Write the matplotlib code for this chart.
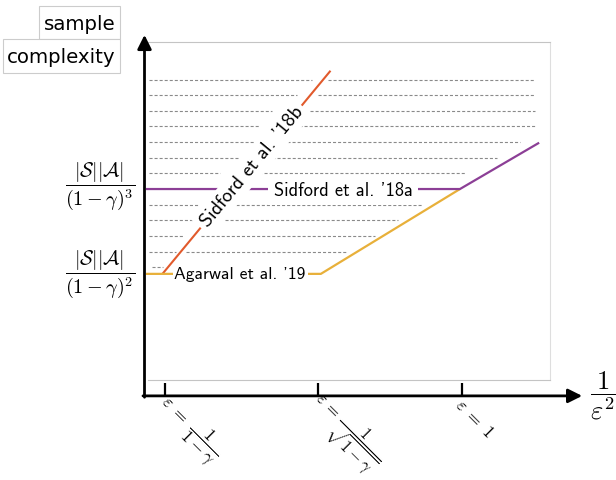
import numpy as np
import matplotlib
matplotlib.use('Agg')
import matplotlib.pyplot as plt
from matplotlib.patches import Rectangle

plt.rcParams['mathtext.fontset'] = 'cm'

# ---------------- data ----------------
xtick_pos = [0.42, 4.22, 7.81]
xtick_labels = [r'$\varepsilon\;=\;\dfrac{1}{1-\gamma}$',
                r'$\varepsilon\,=\,\dfrac{1}{\sqrt{1-\gamma}}$',
                r'$\varepsilon\;=\;1$']
ytick_pos = [5.65, 3.14]
ytick_labels = [r'$\dfrac{|\mathcal{S}||\mathcal{A}|}{(1-\gamma)^3}$',
                r'$\dfrac{|\mathcal{S}||\mathcal{A}|}{(1-\gamma)^2}$']
xlabel_text = r'$\dfrac{1}{\varepsilon^2}$'
ylabel_lines = ['sample', 'complexity']

# Sidford et al. '18b
orange_x = [0.36, 4.54]
orange_y = [3.14, 9.15]
# Agarwal et al. '19
yellow_x = [-0.05, 4.30, 7.76]
yellow_y = [3.14, 3.14, 5.65]
# Sidford et al. '18a
purple_x = [-0.05, 7.76, 9.73]
purple_y = [5.65, 5.65, 7.02]

label_18b = "Sidford et al. '18b"
label_18a = "Sidford et al. '18a"
label_19 = "Agarwal et al. '19"
label_18b_pos = (2.58, 6.30)
label_18a_pos = (4.85, 5.60)
label_19_pos = (2.29, 3.12)
# on-screen text widths (pixels)
label_18b_width = 150
label_18a_width = 138
label_19_width = 131

# dashed hatching rows: y, start, gap start, gap end, row end
dash_y = [8.88, 8.42, 7.96, 7.50, 7.04, 6.57, 6.11, 5.19, 4.73, 4.27, 3.80, 3.34]
dash_start = [0.03, 0.03, 0.03, 0.03, 0.03, 0.03, 0.03, 0.03, 0.03, 0.03, 0.03, 0.10]
dash_gap_start = [4.08, 3.71, 3.08, 2.76, 2.64, 2.26, 1.79, 1.24, 1.12, 0.87, 0.70, 0.37]
dash_gap_end = [4.48, 4.23, 4.03, 3.76, 3.46, 3.08, 2.76, 2.06, 1.92, 1.32, 0.95, np.nan]
dash_end = [9.63, 9.63, 9.63, 9.63, 9.25, 8.68, 7.91, 6.84, 6.22, 5.65, 4.95, np.nan]

# ---------------- styles ----------------
c_orange = '#e15a2c'
c_yellow = '#e8b03a'
c_purple = '#8c3f96'
c_dash = '#8a8a8a'
label_font = 'cmss10'

fig = plt.figure(figsize=(6.16, 4.8), dpi=100)
ax = fig.add_axes([148/616, 100/480, 402/616, 338/480])
ax.set_xlim(0, 10)
ax.set_ylim(0, 10)
ax.set_xticks([])
ax.set_yticks([])
ax.spines['left'].set_visible(False)
for s in ['top', 'bottom']:
    ax.spines[s].set_color('#c4c4c4')
    ax.spines[s].set_linewidth(0.8)
ax.spines['right'].set_color('#dedede')
ax.spines['right'].set_linewidth(0.8)

dash_ls = (0, (2.75, 1.8))
for y, x0, g0, g1, x1 in zip(dash_y, dash_start, dash_gap_start, dash_gap_end, dash_end):
    ax.plot([x0, g0], [y, y], ls=dash_ls, color=c_dash, lw=0.8, zorder=1)
    if not np.isnan(g1):
        ax.plot([g1, x1], [y, y], ls=dash_ls, color=c_dash, lw=0.8, zorder=1)

ax.plot(orange_x, orange_y, color=c_orange, lw=1.5, zorder=2, clip_on=False,
        solid_capstyle='butt')
ax.plot(yellow_x, yellow_y, color=c_yellow, lw=1.6, zorder=3, clip_on=False,
        solid_capstyle='butt')
ax.plot(purple_x, purple_y, color=c_purple, lw=1.6, zorder=3, clip_on=False,
        solid_capstyle='butt')

renderer = fig.canvas.get_renderer()


def fitted_size(txt, width_px, base=13.0):
    t = fig.text(0, 0, txt, fontsize=base, family=label_font)
    w = t.get_window_extent(renderer).width
    t.remove()
    return base * width_px / w


fs_18b = fitted_size(label_18b, label_18b_width)
fs_18a = fitted_size(label_18a, label_18a_width)
fs_19 = fitted_size(label_19, label_19_width)

# rotation of the '18b label from the line's on-screen angle
p0 = ax.transData.transform((orange_x[0], orange_y[0]))
p1 = ax.transData.transform((orange_x[1], orange_y[1]))
ang = np.degrees(np.arctan2(p1[1] - p0[1], p1[0] - p0[0]))

ax.text(*label_18b_pos, label_18b, rotation=ang, rotation_mode='anchor',
        ha='center', va='center', fontsize=fs_18b, family=label_font, zorder=4,
        bbox=dict(boxstyle='square,pad=0.2', fc='white', ec='none'))
ax.text(*label_18a_pos, label_18a, ha='center', va='center', fontsize=fs_18a,
        family=label_font, zorder=4,
        bbox=dict(boxstyle='square,pad=0.3', fc='white', ec='none'))
ax.text(*label_19_pos, label_19, ha='center', va='center', fontsize=fs_19,
        family=label_font, zorder=4,
        bbox=dict(boxstyle='square,pad=0.1', fc='white', ec='none'))

# axis arrows
arrow_kw = dict(arrowstyle='-|>,head_length=0.4,head_width=0.2', lw=2,
                color='k', mutation_scale=21, shrinkA=0, shrinkB=0)
ax.annotate('', xy=(-0.087, 10.21), xytext=(-0.087, -0.51),
            arrowprops=arrow_kw, annotation_clip=False, zorder=5)
ax.annotate('', xy=(10.80, -0.47), xytext=(-0.125, -0.47),
            arrowprops=arrow_kw, annotation_clip=False, zorder=5)

# x tick marks and labels
ax.vlines(xtick_pos, -0.47, -0.09, colors='k', lw=1.6, clip_on=False, zorder=5)
tick_fs = [13, 12, 13]
tick_dy = [-0.66, -0.60, -0.66]
for x, lab, fs, dy in zip(xtick_pos, xtick_labels, tick_fs, tick_dy):
    ax.text(x - 0.10, dy, lab, rotation=-45, rotation_mode='anchor',
            ha='left', va='center', fontsize=fs)

# y tick labels
ytick_dy = [0.10, 0.0]
for y, lab, dy in zip(ytick_pos, ytick_labels, ytick_dy):
    ax.text(-0.32, y + dy, lab, ha='right', va='center', fontsize=14.5)

# x label
ax.text(11.0, -0.47, xlabel_text, ha='left', va='center', fontsize=19)

# y label boxes
box_ec = '#cccccc'
fig.add_artist(Rectangle((39.3/616, 1 - 39.3/480), (120 - 39.3)/616, 33.3/480,
                         transform=fig.transFigure, fc='white', ec=box_ec, lw=0.8))
fig.add_artist(Rectangle((2.7/616, 1 - 72.7/480), (120 - 2.7)/616, 33.4/480,
                         transform=fig.transFigure, fc='white', ec=box_ec, lw=0.8))
fig.text(0.1293, 1 - 24/480, ylabel_lines[0], ha='center', va='center', fontsize=14.2)
fig.text(0.0996, 1 - 57.2/480, ylabel_lines[1], ha='center', va='center', fontsize=14.2)

fig.savefig('out.png', dpi=100)
